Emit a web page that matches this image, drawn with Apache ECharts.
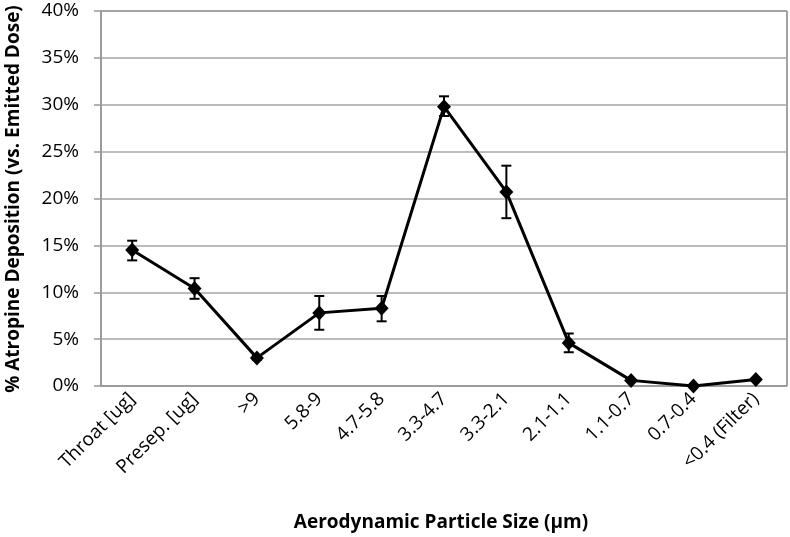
<!DOCTYPE html>
<html>
<head>
<meta charset="utf-8">
<script src="https://cdn.jsdelivr.net/npm/echarts@6/dist/echarts.min.js"></script>
<style>
  html, body { margin: 0; padding: 0; background: #fff; }
  #container { width: 790px; height: 537px; }
</style>
</head>
<body>
<div id="container"></div>
<script>
// 粒径分布数据
var categories = ['Throat [ug]', 'Presep. [ug]', '>9', '5.8-9', '4.7-5.8', '3.3-4.7', '3.3-2.1', '2.1-1.1', '1.1-0.7', '0.7-0.4', '<0.4 (Filter)'];
var deposition = [14.5, 10.4, 3.0, 7.8, 8.3, 29.8, 20.7, 4.6, 0.6, 0.0, 0.7];   // %
var errLow  = [13.4, 9.3, 2.8, 6.0, 6.9, 28.8, 17.9, 3.6, 0.5, 0.0, 0.6];
var errHigh = [15.5, 11.5, 3.2, 9.6, 9.6, 30.9, 23.5, 5.6, 0.7, 0.0, 0.8];
var yTicks = [0, 5, 10, 15, 20, 25, 30, 35, 40];

var errData = [];
for (var i = 0; i < categories.length; i++) {
  errData.push([i, errLow[i], errHigh[i]]);
}

var font = "'Open Sans', 'Noto Sans', sans-serif";
var myChart = echarts.init(document.getElementById('container'), null, { renderer: 'canvas' });

var option = {
  backgroundColor: '#fff',
  animation: false,
  grid: {
    left: 101, right: 3, top: 11, bottom: 151,
    show: true, borderColor: '#444', borderWidth: 1
  },
  xAxis: {
    type: 'category',
    data: categories,
    boundaryGap: true,
    axisLine: { lineStyle: { color: '#999', width: 1.5 } },
    axisTick: { show: false },
    axisLabel: {
      rotate: 45, interval: 0, margin: 10,
      color: '#000', fontSize: 19, fontFamily: font
    }
  },
  yAxis: {
    type: 'value',
    min: yTicks[0], max: yTicks[yTicks.length - 1], interval: 5,
    axisLine: { show: true, lineStyle: { color: '#999', width: 1.5 } },
    axisTick: { show: true, length: 7, lineStyle: { color: '#999', width: 1.5 } },
    splitLine: { lineStyle: { color: '#a6a6a6', width: 1.5 } },
    axisLabel: {
      margin: 22, color: '#000', fontSize: 19, fontFamily: font,
      formatter: '{value}%'
    }
  },
  graphic: [
    {
      type: 'text',
      x: 14, y: 199,
      rotation: Math.PI / 2,
      style: {
        text: '% Atropine Deposition (vs. Emitted Dose)',
        font: 'bold 19px ' + font, fill: '#000',
        x: 0, y: 0, align: 'center', verticalAlign: 'middle'
      }
    },
    {
      type: 'text',
      x: 441, y: 523,
      style: {
        text: 'Aerodynamic Particle Size (\u00b5m)',
        font: 'bold 19px ' + font, fill: '#000',
        x: 0, y: 0, align: 'center', verticalAlign: 'middle'
      }
    }
  ],
  series: [
    {
      type: 'custom',
      z: 3,
      renderItem: function (params, api) {
        var x = api.value(0);
        var lo = api.coord([x, api.value(1)]);
        var hi = api.coord([x, api.value(2)]);
        var w = 5;
        var st = { stroke: '#000', lineWidth: 2 };
        return {
          type: 'group',
          children: [
            { type: 'line', shape: { x1: lo[0], y1: lo[1], x2: hi[0], y2: hi[1] }, style: st },
            { type: 'line', shape: { x1: lo[0] - w, y1: lo[1], x2: lo[0] + w, y2: lo[1] }, style: st },
            { type: 'line', shape: { x1: hi[0] - w, y1: hi[1], x2: hi[0] + w, y2: hi[1] }, style: st }
          ]
        };
      },
      data: errData
    },
    {
      type: 'line',
      z: 4,
      data: deposition,
      symbol: 'diamond',
      symbolSize: [14, 15],
      lineStyle: { color: '#000', width: 3 },
      itemStyle: { color: '#000' }
    }
  ]
};
myChart.setOption(option);
</script>
</body>
</html>
